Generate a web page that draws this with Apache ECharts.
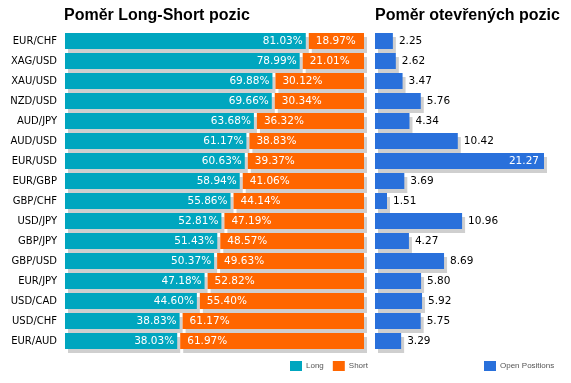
<!DOCTYPE html>
<html>
<head>
<meta charset="utf-8">
<script src="https://cdn.jsdelivr.net/npm/echarts@6/dist/echarts.min.js"></script>
<style>html,body{margin:0;padding:0;background:#fff}#c{width:571px;height:383px}</style>
</head>
<body>
<div id="c"></div>
<script>
const cats = ['EUR/CHF','XAG/USD','XAU/USD','NZD/USD','AUD/JPY','AUD/USD','EUR/USD','EUR/GBP','GBP/CHF','USD/JPY','GBP/JPY','GBP/USD','EUR/JPY','USD/CAD','USD/CHF','EUR/AUD'];
const longPct = [81.03,78.99,69.88,69.66,63.68,61.17,60.63,58.94,55.86,52.81,51.43,50.37,47.18,44.60,38.83,38.03];
const shortPct = [18.97,21.01,30.12,30.34,36.32,38.83,39.37,41.06,44.14,47.19,48.57,49.63,52.82,55.40,61.17,61.97];
const openPos = [2.25,2.62,3.47,5.76,4.34,10.42,21.27,3.69,1.51,10.96,4.27,8.69,5.80,5.92,5.75,3.29];

const C_LONG = '#00A6BF', C_SHORT = '#FF6600', C_OPEN = '#2970DB', C_SH = '#CFCFCF';
const FONT = '"DejaVu Sans", Verdana, sans-serif';
const BAR_H = 16, GAP = 1.5;

function seg(isLong){
  return function(params, api){
    const i = api.value(0), L = api.value(1), S = api.value(2);
    const p0 = api.coord([0, i]);
    const cy = p0[1];
    const xL = api.coord([L, i])[0];
    const xE = api.coord([L + S, i])[0];
    let xs, xe, txt, tx, align;
    if (isLong) { xs = p0[0]; xe = xL - GAP; txt = L.toFixed(2) + '%'; tx = xe - 3; align = 'right'; }
    else { xs = xL + GAP; xe = xE; txt = S.toFixed(2) + '%'; tx = xs + 7; align = 'left'; }
    const top = cy - BAR_H / 2;
    return {
      type: 'group',
      children: [
        {type:'rect', shape:{x:xs+3, y:top+4, width:xe-xs, height:BAR_H}, style:{fill:C_SH}},
        {type:'rect', shape:{x:xs, y:top, width:xe-xs, height:BAR_H}, style:{fill:isLong?C_LONG:C_SHORT}},
        {type:'text', style:{text:txt, x:tx, y:cy+0.5, align:align, verticalAlign:'middle', fill:'#fff', fontSize:10.5, fontFamily:FONT}}
      ]
    };
  };
}

const segData = cats.map((c, i) => [i, longPct[i], shortPct[i]]);
const maxOpen = Math.max(...openPos);
const TFONT = '"Liberation Sans", Arial, sans-serif';

const chart = echarts.init(document.getElementById('c'), null, {renderer:'canvas'});
chart.setOption({
  animation: false,
  backgroundColor: '#fff',
  title: [
    {text:'Poměr Long-Short pozic', left:64, top:8, padding:0, textStyle:{fontFamily:TFONT, fontWeight:'bold', fontSize:16, color:'#000'}},
    {text:'Poměr otevřených pozic', left:375, top:8, padding:0, textStyle:{fontFamily:TFONT, fontWeight:'bold', fontSize:16, color:'#000'}}
  ],
  legend: [
    {data:['Long','Short'], left:290, top:361, padding:0, icon:'rect', itemWidth:12, itemHeight:10, itemGap:9,
     textStyle:{fontSize:8, color:'#555', fontFamily:TFONT, padding:[0,0,0,-1]}},
    {data:['Open Positions'], left:484, top:361, padding:0, icon:'rect', itemWidth:12, itemHeight:10,
     textStyle:{fontSize:8, color:'#555', fontFamily:TFONT, padding:[0,0,0,-1]}}
  ],
  grid: [
    {left:65, right:207, top:31, bottom:32},
    {left:375, right:27, top:31, bottom:32}
  ],
  xAxis: [
    {gridIndex:0, type:'value', min:0, max:100, show:false},
    {gridIndex:1, type:'value', min:0, max:'dataMax', show:false}
  ],
  yAxis: [
    {gridIndex:0, type:'category', data:cats, inverse:true, axisLine:{show:false}, axisTick:{show:false}, splitLine:{show:false},
     axisLabel:{margin:8, fontSize:10, color:'#000', fontFamily:FONT}},
    {gridIndex:1, type:'category', data:cats, inverse:true, show:false}
  ],
  series: [
    {name:'Long', type:'custom', xAxisIndex:0, yAxisIndex:0, itemStyle:{color:C_LONG},
     encode:{x:1, y:0}, data:segData, renderItem:seg(true)},
    {name:'Short', type:'custom', xAxisIndex:0, yAxisIndex:0, itemStyle:{color:C_SHORT},
     encode:{x:2, y:0}, data:segData, renderItem:seg(false)},
    {name:'Open Positions', type:'bar', xAxisIndex:1, yAxisIndex:1, barWidth:BAR_H,
     itemStyle:{color:C_OPEN, shadowColor:C_SH, shadowOffsetX:3, shadowOffsetY:4, shadowBlur:0},
     label:{show:true, position:'right', distance:6, color:'#000', fontSize:10.5, fontFamily:FONT, formatter:p => p.value.toFixed(2)},
     data: openPos.map(v => v === maxOpen
        ? {value:v, label:{position:'insideRight', distance:5, color:'#fff'}}
        : v)}
  ]
});
</script>
</body>
</html>
